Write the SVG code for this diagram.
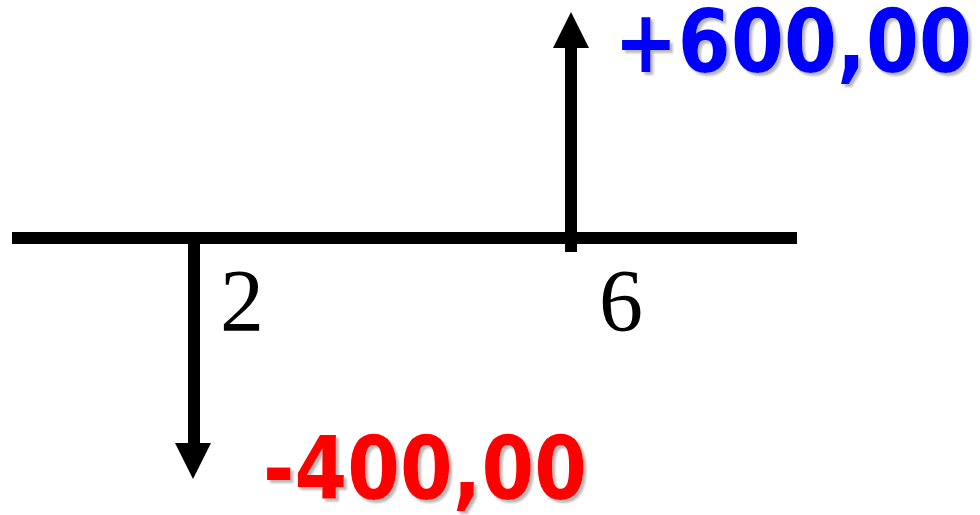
<svg xmlns="http://www.w3.org/2000/svg" width="980" height="515" viewBox="0 0 980 515">
<defs>
<filter id="shadow" x="-5%" y="-10%" width="115%" height="130%">
<feDropShadow dx="3" dy="3" stdDeviation="1.2" flood-color="#808080" flood-opacity="0.55"/>
</filter>
</defs>
<style>
.ln{stroke:#000;stroke-width:12;fill:none}
.hd{fill:#000}
.num{font-family:"Liberation Serif",serif;font-size:88px;fill:#000}
.amt{font-family:"DejaVu Sans",Verdana,sans-serif;font-weight:bold;font-size:87px;filter:url(#shadow)}
</style>
<rect width="980" height="515" fill="#fff"/>
<g id="connectors">
<line class="ln" x1="12" y1="238" x2="797" y2="238"/>
<line class="ln" x1="194" y1="238" x2="194" y2="445"/>
<polygon class="hd" points="175,443 211,443 193,479"/>
<line class="ln" x1="571" y1="252" x2="571" y2="46"/>
<polygon class="hd" points="553,48 589,48 571,12"/>
</g>
<g id="label-2"><text class="num" x="220" y="330">2</text></g>
<g id="label-6"><text class="num" x="599" y="330">6</text></g>
<g id="amount-plus">
<text class="amt" x="614" y="72" fill="#0000FF" textLength="358" lengthAdjust="spacingAndGlyphs">+600,00</text>
</g>
<g id="amount-minus">
<text class="amt" x="263" y="499" fill="#FF0000" textLength="324" lengthAdjust="spacingAndGlyphs">-400,00</text>
</g>
</svg>
